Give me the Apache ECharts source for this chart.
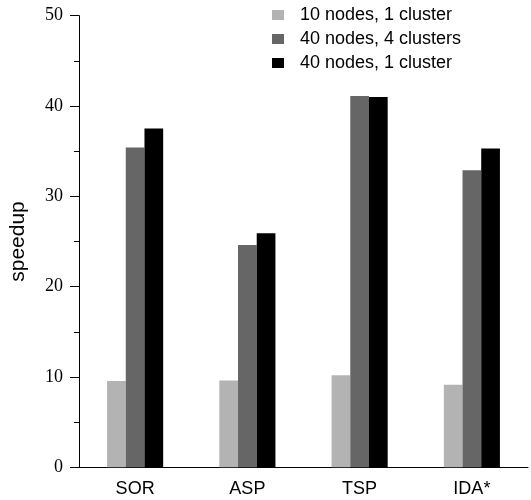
<!DOCTYPE html>
<html>
<head>
<meta charset="utf-8">
<script src="https://cdn.jsdelivr.net/npm/echarts@6/dist/echarts.min.js"></script>
<style>html,body{margin:0;padding:0;background:#fff}#c{width:531px;height:500px}</style>
</head>
<body>
<div id="c"></div>
<script>
const categories = ['SOR', 'ASP', 'TSP', 'IDA*'];
const seriesNames = ['10 nodes, 1 cluster', '40 nodes, 4 clusters', '40 nodes, 1 cluster'];
const nodes10cluster1 = [9.55, 9.6, 10.2, 9.15];
const nodes40cluster4 = [35.4, 24.6, 41.1, 32.9];
const nodes40cluster1 = [37.5, 25.9, 41.0, 35.3];
const seriesColors = ['#b3b3b3', '#666666', '#000000'];

const chart = echarts.init(document.getElementById('c'), null, {renderer: 'canvas'});
const data = [nodes10cluster1, nodes40cluster4, nodes40cluster1];
chart.setOption({
  animation: false,
  backgroundColor: '#fff',
  grid: {left: 77, right: 3, top: 15.7, bottom: 32.7},
  legend: {
    orient: 'vertical', left: 272, top: 6, padding: 0,
    itemWidth: 12, itemHeight: 10, itemGap: 6,
    icon: 'rect',
    textStyle: {fontFamily: 'Liberation Sans, Arial, sans-serif', fontSize: 18, color: '#000', padding: [0,0,0,11], lineHeight: 18},
    data: seriesNames
  },
  xAxis: {
    type: 'category', data: categories,
    axisLine: {lineStyle: {color: '#000', width: 1}},
    axisTick: {show: false},
    axisLabel: {fontFamily: 'Liberation Sans, Arial, sans-serif', fontSize: 18, color: '#000', margin: 13}
  },
  yAxis: {
    type: 'value', min: 0, max: 50, interval: 10,
    name: 'speedup', nameLocation: 'middle', nameGap: 50, nameRotate: 90,
    nameTextStyle: {fontFamily: 'Liberation Sans, Arial, sans-serif', fontSize: 21, color: '#000'},
    axisLine: {show: true, lineStyle: {color: '#000', width: 1}},
    axisTick: {show: true, inside: false, length: 9, lineStyle: {color: '#000'}},
    minorTick: {show: true, splitNumber: 2, length: 5, lineStyle: {color: '#000'}},
    splitLine: {show: false},
    axisLabel: {fontFamily: 'Liberation Serif, Times New Roman, serif', fontSize: 18, color: '#000', margin: 16}
  },
  series: seriesNames.map((n, i) => ({
    name: n, type: 'bar', data: data[i],
    barWidth: 18.7, barGap: '0%',
    itemStyle: {color: seriesColors[i]}
  }))
});
</script>
</body>
</html>
